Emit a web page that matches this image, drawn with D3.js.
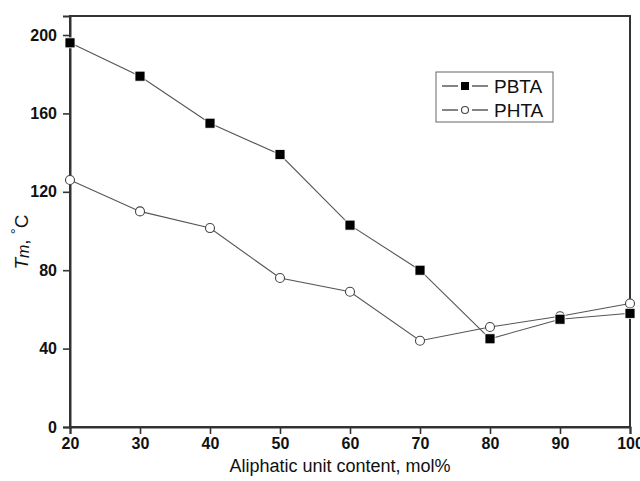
<!DOCTYPE html>
<html>
<head>
<meta charset="utf-8">
<script src="https://cdn.jsdelivr.net/npm/d3@7"></script>
<style>
  body { margin: 0; background: #fff; }
  text { font-family: "Liberation Sans", Arial, sans-serif; fill: #111; }
</style>
</head>
<body>
<div id="chart"></div>
<script>
// aliphatic unit content, mol%
var content = [20, 30, 40, 50, 60, 70, 80, 90, 100];
var pbta = [196, 179, 155, 139, 103, 80, 45, 55, 58];
var phta = [126, 110, 101.5, 76, 69, 44, 51, 56.5, 63];
var xTicks = [20, 30, 40, 50, 60, 70, 80, 90, 100];
var yTicks = [0, 40, 80, 120, 160, 200];

var width = 640,
    height = 481,
    margin = {top: 16, right: 10, bottom: 54, left: 70};

var svg = d3.select("#chart").append("svg")
    .attr("width", width)
    .attr("height", height);

var x = d3.scaleLinear().domain([20, 100]).range([margin.left, width - margin.right]);
var y = d3.scaleLinear().domain([0, 209.7]).range([height - margin.bottom, margin.top]);

// frame
svg.append("rect")
    .attr("x", x(20)).attr("y", y(209.7))
    .attr("width", x(100) - x(20)).attr("height", y(0) - y(209.7))
    .attr("fill", "none").attr("stroke", "#333").attr("stroke-width", 2);

var xAxis = svg.append("g")
    .attr("transform", "translate(0," + y(0) + ")")
    .call(d3.axisBottom(x).tickValues(xTicks).tickSize(7).tickPadding(4));
var yAxis = svg.append("g")
    .attr("transform", "translate(" + x(20) + ",0)")
    .call(d3.axisLeft(y).tickValues(yTicks).tickSize(7).tickPadding(6));

[xAxis, yAxis].forEach(function(g) {
  g.select(".domain").attr("stroke", "#333").attr("stroke-width", 2);
  g.selectAll(".tick line").attr("stroke", "#333").attr("stroke-width", 1.6);
  g.selectAll(".tick text")
      .style("font-size", "16px").style("font-weight", "bold")
      .style("font-family", "'Liberation Sans', Arial, sans-serif")
      .attr("fill", "#111");
});

var line = d3.line()
    .x(function(d) { return x(d[0]); })
    .y(function(d) { return y(d[1]); });

var lineColor = "#555";

function drawSeries(vals, marker) {
  var pts = content.map(function(c, i) { return [c, vals[i]]; });
  svg.append("path")
      .datum(pts)
      .attr("d", line)
      .attr("fill", "none")
      .attr("stroke", lineColor)
      .attr("stroke-width", 1.1);
  if (marker === "square") {
    svg.selectAll(null).data(pts).enter().append("rect")
        .attr("x", function(d) { return x(d[0]) - 5; })
        .attr("y", function(d) { return y(d[1]) - 5; })
        .attr("width", 10).attr("height", 10)
        .attr("fill", "#000").attr("stroke", "#fff").attr("stroke-width", 0.8);
  } else {
    svg.selectAll(null).data(pts).enter().append("circle")
        .attr("cx", function(d) { return x(d[0]); })
        .attr("cy", function(d) { return y(d[1]); })
        .attr("r", 4.5)
        .attr("fill", "#fff").attr("stroke", "#444").attr("stroke-width", 1.1);
  }
}

drawSeries(phta, "circle");
drawSeries(pbta, "square");

// legend
var lg = svg.append("g").attr("transform", "translate(436,72)");
lg.append("rect").attr("width", 117).attr("height", 50)
    .attr("fill", "#fff").attr("stroke", "#666").attr("stroke-width", 1);
var legendItems = [["PBTA", "square"], ["PHTA", "circle"]];
legendItems.forEach(function(item, i) {
  var cy = 14 + i * 24;
  lg.append("line").attr("x1", 6).attr("x2", 22).attr("y1", cy).attr("y2", cy)
      .attr("stroke", "#333").attr("stroke-width", 1.2);
  lg.append("line").attr("x1", 36).attr("x2", 52).attr("y1", cy).attr("y2", cy)
      .attr("stroke", "#333").attr("stroke-width", 1.2);
  if (item[1] === "square") {
    lg.append("rect").attr("x", 25).attr("y", cy - 4).attr("width", 8).attr("height", 8)
        .attr("fill", "#000");
  } else {
    lg.append("circle").attr("cx", 29).attr("cy", cy).attr("r", 3.5)
        .attr("fill", "#fff").attr("stroke", "#444").attr("stroke-width", 1.1);
  }
  lg.append("text").attr("x", 58).attr("y", cy + 7)
      .style("font-size", "19px").text(item[0]);
});

// axis titles
svg.append("text")
    .attr("x", 340)
    .attr("y", 472)
    .attr("text-anchor", "middle")
    .style("font-size", "18px")
    .text("Aliphatic unit content, mol%");

var yt = svg.append("text")
    .attr("transform", "translate(28," + 242 + ") rotate(-90)")
    .attr("text-anchor", "middle")
    .style("font-size", "19px");
yt.append("tspan").style("font-style", "italic").text("T");
yt.append("tspan").style("font-style", "italic").style("font-size", "16px").attr("dy", 1).text("m");
yt.append("tspan").attr("dy", -1).text(", ");
yt.append("tspan").style("font-size", "15px").attr("dy", -7).text("°");
yt.append("tspan").attr("dy", 7).text("C");
</script>
</body>
</html>
